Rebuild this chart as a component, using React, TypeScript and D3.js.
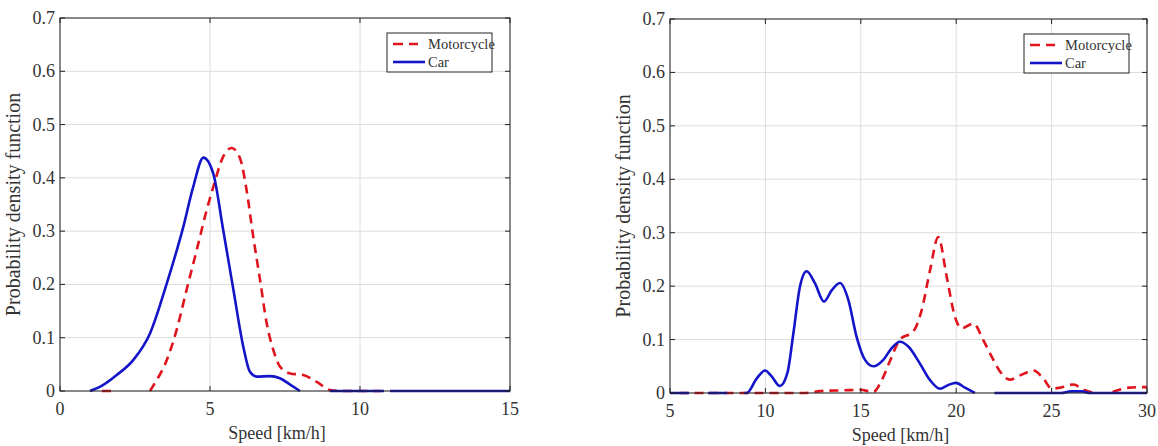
import { useEffect, useRef } from 'react';
import * as d3 from 'd3';

type Pt = [number, number] | null;

// left panel (walking-speed range)
const leftMoto: Pt[] = [
  [1.4, 0], [1.8, 0], null,
  [3.0, 0], [3.11, 0.01], [3.56, 0.058], [3.89, 0.115], [4.22, 0.19], [4.56, 0.265],
  [4.89, 0.34], [5.11, 0.383], [5.44, 0.44], [5.72, 0.456], [6.0, 0.437], [6.22, 0.377],
  [6.44, 0.29], [6.67, 0.208], [6.89, 0.127], [7.11, 0.077], [7.33, 0.046], [7.67, 0.033],
  [8.11, 0.03], [8.56, 0.017], [9.0, 0.002], [9.4, 0], [10.7, 0],
];
const leftCar: Pt[] = [
  [1.0, 0], [1.4, 0.01], [1.89, 0.03], [2.44, 0.058], [3.0, 0.108], [3.56, 0.202],
  [4.11, 0.308], [4.44, 0.383], [4.78, 0.438], [5.11, 0.408], [5.44, 0.302], [5.78, 0.19],
  [6.11, 0.083], [6.33, 0.036], [6.56, 0.027], [7.0, 0.028], [7.33, 0.024], [7.67, 0.012],
  [8.0, 0], null,
  [9.0, 0], [10.8, 0], null, [11.0, 0], [15.0, 0],
];

// right panel
const rightMoto: Pt[] = [
  [5.5, 0], [12.0, 0], [13.05, 0.004], [14.09, 0.005], [14.97, 0.006], [15.66, 0.002],
  [16.1, 0.024], [16.54, 0.061], [17.05, 0.1], [17.75, 0.115], [18.19, 0.155], [18.63, 0.23],
  [19.06, 0.292], [19.5, 0.218], [19.93, 0.143], [20.28, 0.121], [20.9, 0.13], [21.42, 0.099],
  [21.86, 0.068], [22.3, 0.04], [22.82, 0.025], [23.35, 0.033], [24.05, 0.042], [24.57, 0.027],
  [25.01, 0.008], [25.45, 0.01], [26.15, 0.016], [26.67, 0.006], [27.2, 0], null,
  [28.2, 0.002], [29.07, 0.01], [29.85, 0.011], [30, 0.011],
];
const rightCar: Pt[] = [
  [5.0, 0], [6.0, 0], null, [7.0, 0], [8.0, 0], null,
  [8.9, 0], [9.02, 0], [9.54, 0.027], [9.98, 0.042], [10.33, 0.031], [10.76, 0.013],
  [11.15, 0.037], [11.46, 0.11], [11.81, 0.199], [12.16, 0.228], [12.6, 0.205], [13.07, 0.171],
  [13.47, 0.192], [13.91, 0.206], [14.35, 0.174], [14.78, 0.105], [15.22, 0.062], [15.66, 0.05],
  [16.18, 0.062], [16.62, 0.084], [17.05, 0.096], [17.49, 0.087], [18.1, 0.055], [18.63, 0.024],
  [19.15, 0.008], [19.59, 0.015], [19.99, 0.019], [20.46, 0.01], [20.98, 0], null,
  [22.0, 0], [25.5, 0], [26.0, 0.003], [26.6, 0.003], [27.0, 0], [30.0, 0],
];

const yTicks = [0, 0.1, 0.2, 0.3, 0.4, 0.5, 0.6, 0.7];
const leftXTicks = [0, 5, 10, 15];
const rightXTicks = [5, 10, 15, 20, 25, 30];
const seriesNames = ['Motorcycle', 'Car'];

const RED = '#e0141c';
const BLUE = '#1414c8';
const FONT = '"Liberation Serif", "Times New Roman", serif';

interface PanelProps {
  x0: number;
  x1: number;
  y0: number;
  y1: number;
  xDomain: [number, number];
  xTicks: number[];
  moto: Pt[];
  car: Pt[];
}

function Panel({ x0, x1, y0, y1, xDomain, xTicks, moto, car }: PanelProps) {
  const ref = useRef<SVGGElement>(null);

  useEffect(() => {
    if (!ref.current) return;
    const g = d3.select(ref.current);
    g.selectAll('*').remove();

    const x = d3.scaleLinear().domain(xDomain).range([x0, x1]);
    const y = d3.scaleLinear().domain([0, 0.7]).range([y1, y0]);

    // grid
    g.append('g')
      .selectAll('line')
      .data(xTicks)
      .join('line')
      .attr('x1', (d) => x(d)).attr('x2', (d) => x(d))
      .attr('y1', y0).attr('y2', y1)
      .attr('stroke', '#dcdcdc').attr('stroke-width', 1);
    g.append('g')
      .selectAll('line')
      .data(yTicks)
      .join('line')
      .attr('x1', x0).attr('x2', x1)
      .attr('y1', (d) => y(d)).attr('y2', (d) => y(d))
      .attr('stroke', '#dcdcdc').attr('stroke-width', 1);

    const line = d3
      .line<Pt>()
      .defined((d) => d !== null)
      .x((d) => x(d![0]))
      .y((d) => y(d![1]))
      .curve(d3.curveMonotoneX);

    g.append('path')
      .attr('d', line(moto))
      .attr('fill', 'none')
      .attr('stroke', RED)
      .attr('stroke-width', 2.6)
      .attr('stroke-dasharray', '9,6');
    g.append('path')
      .attr('d', line(car))
      .attr('fill', 'none')
      .attr('stroke', BLUE)
      .attr('stroke-width', 2.6);

    // box + inward ticks
    g.append('rect')
      .attr('x', x0).attr('y', y0)
      .attr('width', x1 - x0).attr('height', y1 - y0)
      .attr('fill', 'none').attr('stroke', '#222').attr('stroke-width', 1);
    const tl = 5;
    xTicks.forEach((t) => {
      g.append('line').attr('x1', x(t)).attr('x2', x(t)).attr('y1', y1).attr('y2', y1 - tl).attr('stroke', '#222');
      g.append('line').attr('x1', x(t)).attr('x2', x(t)).attr('y1', y0).attr('y2', y0 + tl).attr('stroke', '#222');
    });
    yTicks.forEach((t) => {
      g.append('line').attr('x1', x0).attr('x2', x0 + tl).attr('y1', y(t)).attr('y2', y(t)).attr('stroke', '#222');
      g.append('line').attr('x1', x1).attr('x2', x1 - tl).attr('y1', y(t)).attr('y2', y(t)).attr('stroke', '#222');
    });

    // tick labels
    g.selectAll('text.xt')
      .data(xTicks)
      .join('text')
      .attr('class', 'xt')
      .attr('x', (d) => x(d))
      .attr('y', y1 + 24)
      .attr('text-anchor', 'middle')
      .attr('font-size', 18)
      .attr('fill', '#333')
      .text((d) => String(d));
    g.selectAll('text.yt')
      .data(yTicks)
      .join('text')
      .attr('class', 'yt')
      .attr('x', x0 - 5)
      .attr('y', (d) => y(d) + 6)
      .attr('text-anchor', 'end')
      .attr('font-size', 18)
      .attr('fill', '#333')
      .text((d) => (d === 0 ? '0' : d.toFixed(1)));

    // axis titles
    g.append('text')
      .attr('x', (x0 + x1) / 2 - 8)
      .attr('y', y1 + 48)
      .attr('text-anchor', 'middle')
      .attr('font-size', 18)
      .attr('fill', '#333')
      .text('Speed [km/h]');
    g.append('text')
      .attr('transform', `translate(${x0 - 40},${(y0 + y1) / 2}) rotate(-90)`)
      .attr('text-anchor', 'middle')
      .attr('font-size', 20)
      .attr('fill', '#333')
      .text('Probability density function');

    // legend
    const lw = 105;
    const lx = x1 - 18 - lw;
    const ly = y0 + 15;
    const lg = g.append('g');
    lg.append('rect')
      .attr('x', lx).attr('y', ly).attr('width', lw).attr('height', 39)
      .attr('fill', '#fff').attr('stroke', '#222').attr('stroke-width', 1);
    seriesNames.forEach((name, i) => {
      const yy = ly + 11 + i * 18;
      lg.append('line')
        .attr('x1', lx + 6).attr('x2', i === 0 ? lx + 31 : lx + 38)
        .attr('y1', yy).attr('y2', yy)
        .attr('stroke', i === 0 ? RED : BLUE)
        .attr('stroke-width', 2.6)
        .attr('stroke-dasharray', i === 0 ? '10,6' : null);
      lg.append('text')
        .attr('x', lx + 41)
        .attr('y', yy + 5)
        .attr('font-size', 14.5)
        .attr('fill', '#333')
        .text(name);
    });
  }, [x0, x1, y0, y1, xDomain, xTicks, moto, car]);

  return <g ref={ref} />;
}

export default function App() {
  return (
    <svg
      width={1158}
      height={446}
      style={{ position: 'absolute', left: 0, top: 0, background: '#fff', fontFamily: FONT }}
    >
      <Panel x0={60} x1={510} y0={18} y1={391} xDomain={[0, 15]} xTicks={leftXTicks} moto={leftMoto} car={leftCar} />
      <Panel x0={670} x1={1147} y0={19} y1={393} xDomain={[5, 30]} xTicks={rightXTicks} moto={rightMoto} car={rightCar} />
    </svg>
  );
}
